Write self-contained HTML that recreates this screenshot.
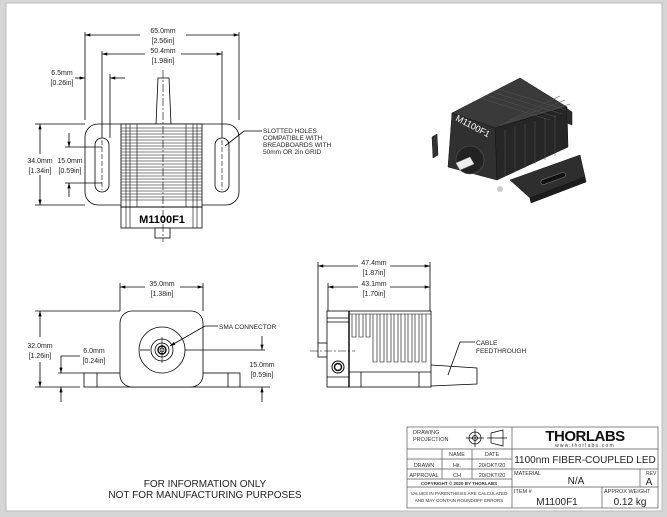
<!DOCTYPE html>
<html><head><meta charset="utf-8"><style>
html,body{margin:0;padding:0;background:#d4d4d4;}
svg{display:block;font-family:"Liberation Sans",sans-serif;}
</style></head><body>
<svg width="667" height="517" viewBox="0 0 667 517" xmlns="http://www.w3.org/2000/svg">
<rect x="0" y="0" width="667" height="517" fill="#d6d6d6"/>
<rect x="6" y="3" width="656" height="508" fill="#fff" stroke="#bbb" stroke-width="1"/>
<defs>
<marker id="a" viewBox="0 0 10 6" refX="10" refY="3" markerWidth="8" markerHeight="4" orient="auto-start-reverse"><path d="M0,0L10,3L0,6z" fill="#000"/></marker>
</defs>
<g stroke="#000" fill="none" stroke-width="0.8">
<!-- TOP VIEW -->
<path d="M156,124 L158,78 L169,78 L171,124" fill="#fff"/>
<rect x="85" y="124" width="154" height="81" rx="13" fill="#fff"/>
<rect x="121" y="124" width="81" height="83" fill="#fff"/>
<g stroke-width="0.6">
<line x1="121" y1="128" x2="202" y2="128"/><line x1="121" y1="131" x2="202" y2="131"/>
<line x1="121" y1="134" x2="202" y2="134"/><line x1="121" y1="137" x2="202" y2="137"/>
<line x1="121" y1="140" x2="202" y2="140"/><line x1="121" y1="143" x2="202" y2="143"/>
<line x1="121" y1="146" x2="202" y2="146"/><line x1="121" y1="149" x2="202" y2="149"/>
<line x1="121" y1="152" x2="202" y2="152"/><line x1="121" y1="155" x2="202" y2="155"/>
<line x1="121" y1="158" x2="202" y2="158"/><line x1="121" y1="161" x2="202" y2="161"/>
<line x1="121" y1="164" x2="202" y2="164"/><line x1="121" y1="167" x2="202" y2="167"/>
<line x1="121" y1="170" x2="202" y2="170"/><line x1="121" y1="173" x2="202" y2="173"/>
<line x1="121" y1="176" x2="202" y2="176"/><line x1="121" y1="179" x2="202" y2="179"/>
<line x1="121" y1="182" x2="202" y2="182"/><line x1="121" y1="185" x2="202" y2="185"/>
<line x1="121" y1="188" x2="202" y2="188"/><line x1="121" y1="191" x2="202" y2="191"/>
<line x1="121" y1="194" x2="202" y2="194"/><line x1="121" y1="197" x2="202" y2="197"/>
<line x1="121" y1="200" x2="202" y2="200"/>
<line x1="126" y1="124" x2="126" y2="228"/><line x1="130" y1="124" x2="130" y2="228"/><line x1="137" y1="124" x2="137" y2="207"/>
<line x1="197" y1="124" x2="197" y2="228"/><line x1="193" y1="124" x2="193" y2="228"/><line x1="186" y1="124" x2="186" y2="207"/>
</g>
<rect x="121" y="207" width="81" height="21" fill="none"/>
<rect x="155" y="228" width="15" height="10" fill="#fff"/>
<line x1="163" y1="70" x2="163" y2="242" stroke-dasharray="8,2,2,2" stroke-width="0.6"/>
<rect x="95" y="138" width="14" height="54" rx="7" fill="#fff"/>
<rect x="215" y="138" width="14" height="54" rx="7" fill="#fff"/>
<line x1="102" y1="140" x2="102" y2="190" stroke-dasharray="5,2" stroke-width="0.6"/>
<line x1="222" y1="140" x2="222" y2="190" stroke-dasharray="5,2" stroke-width="0.6"/>
<!-- top dims -->
<line x1="85" y1="32" x2="85" y2="120"/><line x1="239" y1="32" x2="239" y2="120"/>
<line x1="85" y1="35" x2="140" y2="35" marker-start="url(#a)"/><line x1="186" y1="35" x2="239" y2="35" marker-end="url(#a)"/>
<line x1="102" y1="51" x2="102" y2="138"/><line x1="222" y1="51" x2="222" y2="138"/>
<line x1="102" y1="54" x2="145" y2="54" marker-start="url(#a)"/><line x1="181" y1="54" x2="222" y2="54" marker-end="url(#a)"/>
<line x1="75" y1="78" x2="85" y2="78" marker-end="url(#a)"/><line x1="125" y1="78" x2="110" y2="78" marker-end="url(#a)"/>
<line x1="110" y1="74" x2="110" y2="138"/>
<line x1="35" y1="124" x2="85" y2="124"/><line x1="35" y1="205" x2="85" y2="205"/>
<line x1="40" y1="124" x2="40" y2="154" marker-start="url(#a)"/><line x1="40" y1="175" x2="40" y2="205" marker-end="url(#a)"/>
<line x1="65" y1="147" x2="102" y2="147"/><line x1="65" y1="183" x2="102" y2="183"/>
<line x1="69" y1="133" x2="69" y2="147" marker-end="url(#a)"/><line x1="69" y1="197" x2="69" y2="183" marker-end="url(#a)"/>
<polyline points="225,146 244,131 262,131"/>
<!-- FRONT VIEW -->
<rect x="84" y="373" width="156" height="14" fill="#fff"/>
<line x1="97" y1="373" x2="97" y2="387"/><line x1="228" y1="373" x2="228" y2="387"/>
<rect x="120" y="311" width="83" height="76" rx="12" fill="#fff"/>
<circle cx="162" cy="350" r="23"/><circle cx="162" cy="350" r="11"/><circle cx="162" cy="350" r="7"/><circle cx="162" cy="350" r="4" stroke-width="1.4"/><circle cx="162" cy="350" r="2"/>
<line x1="162" y1="337" x2="162" y2="363" stroke-width="0.6"/>
<line x1="185" y1="350" x2="265" y2="350"/><line x1="140" y1="350" x2="150" y2="350"/>
<line x1="120" y1="283" x2="120" y2="311"/><line x1="203" y1="283" x2="203" y2="311"/>
<line x1="120" y1="287" x2="145" y2="287" marker-start="url(#a)"/><line x1="180" y1="287" x2="203" y2="287" marker-end="url(#a)"/>
<line x1="35" y1="311" x2="120" y2="311"/><line x1="35" y1="387" x2="80" y2="387"/>
<line x1="40" y1="311" x2="40" y2="337" marker-start="url(#a)"/><line x1="40" y1="362" x2="40" y2="387" marker-end="url(#a)"/>
<line x1="58" y1="373" x2="84" y2="373"/>
<polyline points="80,356 61,356 61,373" marker-end="url(#a)"/><line x1="61" y1="402" x2="61" y2="387" marker-end="url(#a)"/>
<line x1="240" y1="387" x2="270" y2="387"/>
<line x1="262" y1="336" x2="262" y2="350" marker-end="url(#a)"/><line x1="262" y1="402" x2="262" y2="387" marker-end="url(#a)"/>
<polyline points="218,326 205,326 170,346" marker-end="url(#a)"/>
<!-- SIDE VIEW -->
<path d="M431,365 L477,368 L477,384 L431,386" fill="#fff"/>
<rect x="318" y="343" width="10" height="14" fill="#fff"/>
<rect x="327" y="311" width="104" height="76" fill="#fff"/>
<line x1="349" y1="311" x2="349" y2="387" stroke-width="1.4"/>
<line x1="327" y1="318" x2="349" y2="318"/><line x1="327" y1="322" x2="349" y2="322"/><line x1="327" y1="377" x2="349" y2="377"/>
<line x1="349" y1="372" x2="431" y2="372"/>
<line x1="361" y1="372" x2="361" y2="387"/><line x1="419" y1="372" x2="419" y2="387"/>
<g stroke-width="0.6">
<path d="M352,314 V337 H356 V314 M359,314 V337 H363 V314 M366,314 V337 H370 V314"/>
<path d="M373,314 V362 H377 V314 M380,314 V362 H384 V314 M387,314 V362 H391 V314 M394,314 V362 H398 V314 M401,314 V362 H405 V314 M408,314 V362 H412 V314 M415,314 V362 H419 V314 M422,314 V362 H426 V314"/>
<line x1="349" y1="314" x2="431" y2="314"/>
</g>
<line x1="310" y1="351" x2="355" y2="351" stroke-dasharray="8,2,2,2" stroke-width="0.6"/>
<circle cx="338" cy="367" r="6" stroke-width="1"/><circle cx="338" cy="367" r="3.5" stroke-width="1.4"/>
<line x1="318" y1="262" x2="318" y2="343"/><line x1="328" y1="283" x2="328" y2="311"/><line x1="430" y1="262" x2="430" y2="311"/>
<line x1="318" y1="266" x2="358" y2="266" marker-start="url(#a)"/><line x1="390" y1="266" x2="430" y2="266" marker-end="url(#a)"/>
<line x1="328" y1="287" x2="358" y2="287" marker-start="url(#a)"/><line x1="390" y1="287" x2="430" y2="287" marker-end="url(#a)"/>
<polyline points="475,342 460,342 448,375"/>
</g>
<!-- 3D view -->
<g stroke="#111" stroke-width="0.5">
<polygon points="432,137 437,134 438,155 433,158" fill="#333"/>
<polygon points="510,180 580,155 585,177 530,198" fill="#2e2e2e"/>
<polygon points="530,198 585,177 586,182 531,203" fill="#1c1c1c"/>
<polygon points="452,113 520,78 567,107 495,128" fill="#3a3a3a"/>
<polygon points="495,128 567,107 568,147 497,180" fill="#262626"/>
<polygon points="452,113 495,128 497,180 448,167" fill="#303030"/>
<polygon points="566,108 572,112 572,125 567,123" fill="#2a2a2a"/>
</g>
<g stroke="#555" stroke-width="0.5">
<line x1="500" y1="125" x2="570" y2="104"/><line x1="505" y1="123" x2="565" y2="100"/><line x1="510" y1="120" x2="560" y2="96"/>
<line x1="480" y1="98" x2="550" y2="120"/><line x1="486" y1="95" x2="556" y2="117"/><line x1="492" y1="92" x2="562" y2="114"/><line x1="498" y1="89" x2="566" y2="110"/>
<line x1="505" y1="130" x2="505" y2="176"/><line x1="515" y1="127" x2="515" y2="172"/><line x1="525" y1="124" x2="525" y2="168"/><line x1="535" y1="121" x2="535" y2="164"/><line x1="545" y1="118" x2="545" y2="160"/><line x1="555" y1="115" x2="555" y2="156"/>
</g>
<circle cx="470" cy="160" r="14" fill="#222" stroke="#555" stroke-width="0.6"/>
<path d="M456,163 L470,157 L474,164 L460,170 Z" fill="#eee" stroke="#999" stroke-width="0.5"/>
<circle cx="500" cy="189" r="3" fill="#ccc"/>
<rect x="540" y="176" width="26" height="5" rx="2.5" fill="#111" stroke="#777" stroke-width="0.6" transform="rotate(-20 553 178)"/>
<text x="455" y="120" font-size="9" fill="#fff" transform="rotate(28 455 120)">M1100F1</text>
<!-- labels -->
<g font-size="7" fill="#222" text-anchor="middle">
<text x="163" y="33">65.0mm</text><text x="163" y="43">[2.56in]</text>
<text x="163" y="53">50.4mm</text><text x="163" y="63">[1.98in]</text>
<text x="62" y="75">6.5mm</text><text x="62" y="85">[0.26in]</text>
<text x="40" y="163">34.0mm</text><text x="40" y="173">[1.34in]</text>
<text x="70" y="163">15.0mm</text><text x="70" y="173">[0.59in]</text>
<text x="162" y="286">35.0mm</text><text x="162" y="296">[1.38in]</text>
<text x="40" y="348">32.0mm</text><text x="40" y="358">[1.26in]</text>
<text x="94" y="353">6.0mm</text><text x="94" y="363">[0.24in]</text>
<text x="262" y="367">15.0mm</text><text x="262" y="377">[0.59in]</text>
<text x="374" y="265">47.4mm</text><text x="374" y="275">[1.87in]</text>
<text x="374" y="286">43.1mm</text><text x="374" y="296">[1.70in]</text>
</g>
<g font-size="6.5" fill="#222">
<text x="263" y="133">SLOTTED HOLES</text><text x="263" y="140">COMPATIBLE WITH</text><text x="263" y="147">BREADBOARDS WITH</text><text x="263" y="154">50mm OR 2in GRID</text>
<text x="219" y="329">SMA CONNECTOR</text>
<text x="476" y="345">CABLE</text><text x="476" y="353">FEEDTHROUGH</text>
</g>
<g font-size="10" fill="#222" text-anchor="middle">
<text x="205" y="487">FOR INFORMATION ONLY</text><text x="205" y="498">NOT FOR MANUFACTURING PURPOSES</text>
</g>
<text x="162" y="223" font-size="11" font-weight="bold" text-anchor="middle">M1100F1</text>
<!-- title block -->
<g stroke="#555" stroke-width="0.7" fill="none">
<rect x="407" y="427" width="251" height="81" fill="#fff"/>
<line x1="512" y1="427" x2="512" y2="508"/>
<line x1="407" y1="449" x2="658" y2="449"/>
<line x1="407" y1="459" x2="512" y2="459"/><line x1="407" y1="469" x2="658" y2="469"/>
<line x1="407" y1="479" x2="512" y2="479"/><line x1="407" y1="487" x2="658" y2="487"/>
<line x1="442" y1="449" x2="442" y2="479"/><line x1="472" y1="449" x2="472" y2="479"/>
<line x1="640" y1="469" x2="640" y2="487"/><line x1="602" y1="487" x2="602" y2="508"/>
<circle cx="475" cy="438" r="6" stroke="#000"/><circle cx="475" cy="438" r="2.5" stroke="#000"/>
<line x1="466" y1="438" x2="484" y2="438" stroke="#000"/><line x1="475" y1="429" x2="475" y2="447" stroke="#000"/>
<path d="M491,433 L503,430 L503,446 L491,443 Z M487,438 H507" stroke="#000"/>
</g>
<g fill="#333" font-size="5.5">
<text x="413" y="434">DRAWING</text><text x="413" y="441">PROJECTION</text>
<text x="457" y="456" text-anchor="middle">NAME</text><text x="492" y="456" text-anchor="middle">DATE</text>
<text x="424" y="467" text-anchor="middle">DRAWN</text><text x="457" y="467" text-anchor="middle">Hit.</text><text x="492" y="467" text-anchor="middle">20/OKT/20</text>
<text x="424" y="477" text-anchor="middle">APPROVAL</text><text x="457" y="477" text-anchor="middle">CH</text><text x="492" y="477" text-anchor="middle">20/OKT/20</text>
<text x="459" y="485" text-anchor="middle" font-size="4.5" font-weight="bold">COPYRIGHT © 2020 BY THORLABS</text>
<text x="459" y="495" text-anchor="middle" font-size="4.5">VALUES IN PARENTHESIS ARE CALCULATED</text>
<text x="459" y="502" text-anchor="middle" font-size="4.5">AND MAY CONTAIN ROUNDOFF ERRORS</text>
<text x="514" y="475">MATERIAL</text><text x="646" y="475" font-size="5">REV</text>
<text x="514" y="493">ITEM #</text><text x="604" y="493">APPROX WEIGHT</text>
</g>
<text x="585" y="441" font-size="15" font-weight="bold" text-anchor="middle" fill="#111" letter-spacing="-0.5">THORLABS</text>
<text x="585" y="447" font-size="5" text-anchor="middle" fill="#333" letter-spacing="1.2">www.thorlabs.com</text>
<g fill="#222" text-anchor="middle">
<text x="585" y="463" font-size="10">1100nm FIBER-COUPLED LED</text>
<text x="576" y="484" font-size="10">N/A</text>
<text x="649" y="485" font-size="10">A</text>
<text x="557" y="505" font-size="10">M1100F1</text>
<text x="630" y="505" font-size="10">0.12 kg</text>
</g>
</svg>
</body></html>
